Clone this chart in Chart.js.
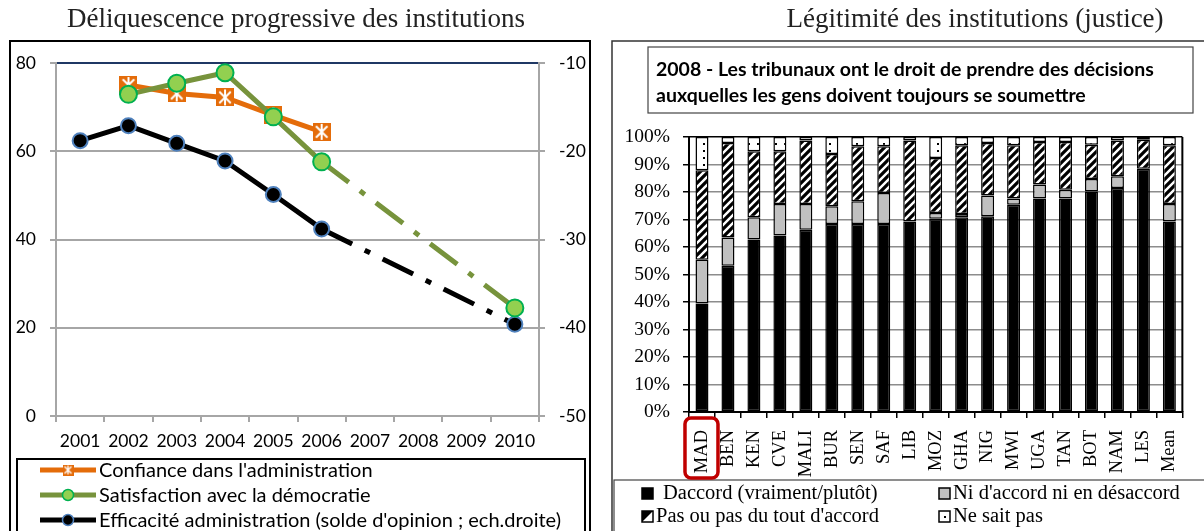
<!DOCTYPE html>
<html>
<head>
<meta charset="utf-8">
<script src="https://cdn.jsdelivr.net/npm/chart.js@4.4.0/dist/chart.umd.min.js"></script>
<style>
  html, body { margin: 0; padding: 0; background: #fff; overflow: hidden; }
  #wrap { position: relative; width: 1204px; height: 531px; }
  #gauche { position: absolute; left: 0; top: 0; }
  #droite { position: absolute; left: 600px; top: 0; }
</style>
</head>
<body>
<div id="wrap">
  <canvas id="gauche" width="600" height="531"></canvas>
  <canvas id="droite" width="604" height="531"></canvas>
</div>
<script>
// ---- graphique de gauche
const annees = ['2001', '2002', '2003', '2004', '2005', '2006', '2007', '2008', '2009', '2010'];
const confiance = [null, 75.0, 73.1, 72.2, 68.2, 64.4, null, null, null, null];
const satisfaction = [null, 72.9, 75.4, 77.8, 67.8, 57.6, null, null, null, 24.5];
const efficacite = [-18.8, -17.1, -19.1, -21.1, -24.9, -28.8, null, null, null, -39.6];
const ticksGauche = [0, 20, 40, 60, 80];
const ticksDroite = [-50, -40, -30, -20, -10];
const seriesGauche = ["Confiance dans l'administration", 'Satisfaction avec la démocratie',
  "Efficacité administration (solde d'opinion ; ech.droite)"];

// ---- graphique de droite
const pays = ['MAD', 'BEN', 'KEN', 'CVE', 'MALI', 'BUR', 'SEN', 'SAF', 'LIB', 'MOZ',
  'GHA', 'NIG', 'MWI', 'UGA', 'TAN', 'BOT', 'NAM', 'LES', 'Mean'];
const daccord = [39.5, 53.2, 62.7, 64.2, 66.3, 68.4, 68.4, 68.4, 69.3, 70.3, 70.8, 71.2, 75.4, 77.6, 77.6, 80.2, 81.5, 88.5, 69.3];
const niNi = [15.9, 10.3, 8.1, 11.4, 9.3, 6.4, 8.2, 11.2, 0, 2.1, 1.2, 7.5, 2.2, 5.1, 3.2, 4.5, 4.2, 0, 6.3];
const pasDaccord = [32.5, 34.3, 24.0, 19.2, 23.1, 19.0, 20.0, 17.0, 29.4, 20.0, 25.0, 19.1, 19.4, 15.5, 17.4, 12.5, 13.0, 10.5, 21.4];
const nsp = [12.1, 2.2, 5.2, 5.2, 1.3, 6.2, 3.4, 3.4, 1.3, 7.6, 3.0, 2.2, 3.0, 1.8, 1.8, 2.8, 1.3, 1.0, 3.0];
const ticksPct = [0, 10, 20, 30, 40, 50, 60, 70, 80, 90, 100];
const seriesDroite = ['Daccord (vraiment/plutôt)', "Ni d'accord ni en désaccord", "Pas ou pas du tout d'accord", 'Ne sait pas'];
const titreGauche = 'Déliquescence progressive des institutions';
const titreDroite = 'Légitimité des institutions (justice)';
const question = ['2008 - Les tribunaux ont le droit de prendre des décisions',
  'auxquelles les gens doivent toujours se soumettre'];

const sans = 'Lato, "Open Sans", sans-serif';
const serif = '"Liberation Serif", "DejaVu Serif", serif';
const gris = '#A6A6A6';

// marqueur orange (carre avec asterisque blanc)
let marqueOrange = (taille) => {
  let c = document.createElement('canvas');
  c.width = taille; c.height = taille;
  let g = c.getContext('2d');
  g.fillStyle = '#E46C0A';
  g.fillRect(0, 0, taille, taille);
  g.strokeStyle = '#fff';
  g.lineWidth = taille > 12 ? 2 : 1.3;
  let m = taille * 0.18, t = taille;
  g.beginPath();
  g.moveTo(m, m); g.lineTo(t - m, t - m);
  g.moveTo(t - m, m); g.lineTo(m, t - m);
  g.moveTo(t / 2, 1); g.lineTo(t / 2, t - 1);
  g.stroke();
  return c;
};

let motifHachures = (ctx) => {
  let c = document.createElement('canvas');
  c.width = 8; c.height = 8;
  let g = c.getContext('2d');
  g.fillStyle = '#fff';
  g.fillRect(0, 0, 8, 8);
  g.strokeStyle = '#000';
  g.lineWidth = 3.2;
  g.beginPath();
  g.moveTo(-2, 10); g.lineTo(10, -2);
  g.moveTo(-2, 2); g.lineTo(2, -2);
  g.moveTo(6, 10); g.lineTo(10, 6);
  g.stroke();
  return ctx.createPattern(c, 'repeat');
};

let motifPoints = (ctx) => {
  let c = document.createElement('canvas');
  c.width = 9; c.height = 7;
  let g = c.getContext('2d');
  g.fillStyle = '#fff';
  g.fillRect(0, 0, 9, 7);
  g.fillStyle = '#000';
  g.fillRect(4, 3, 2, 2);
  return ctx.createPattern(c, 'repeat');
};

// trait-point pour les annees sans donnees
let trou = ctx => ctx.p0.skip || ctx.p1.skip ? [34, 14, 6, 14] : undefined;

let cadreGauche = {
  id: 'cadreGauche',
  afterDraw(chart) {
    let g = chart.ctx;
    g.save();
    g.fillStyle = '#222';
    g.font = '27px ' + serif;
    g.textAlign = 'center';
    g.textBaseline = 'middle';
    g.fillText(titreGauche, 296, 20);

    g.strokeStyle = '#000';
    g.lineWidth = 2;
    g.strokeRect(10, 41, 580, 500);
    g.strokeRect(17, 459, 568, 100);

    let ys = [470, 495, 520];
    let couleurs = ['#E46C0A', '#77933C', '#000'];
    ys.forEach((y, i) => {
      g.strokeStyle = couleurs[i];
      g.lineWidth = 5;
      g.beginPath();
      g.moveTo(40, y); g.lineTo(96, y);
      g.stroke();
      if (i === 0) {
        g.drawImage(marqueOrange(11), 68 - 5.5, y - 5.5);
      } else {
        g.beginPath();
        g.arc(68, y, 5.5, 0, Math.PI * 2);
        g.fillStyle = i === 1 ? '#92D050' : '#000';
        g.fill();
        g.lineWidth = 1.5;
        g.strokeStyle = i === 1 ? '#00B050' : '#4F81BD';
        g.stroke();
      }
      g.fillStyle = '#000';
      g.font = '20px ' + sans;
      g.textAlign = 'left';
      g.fillText(seriesGauche[i], 99, y + 1);
    });
    g.restore();
  }
};

const gauche = new Chart(document.getElementById('gauche'), {
  type: 'line',
  data: {
    labels: annees,
    datasets: [{
      label: seriesGauche[0],
      data: confiance,
      yAxisID: 'y',
      order: 1,
      borderColor: '#E46C0A',
      borderWidth: 5,
      pointStyle: marqueOrange(18),
      pointRadius: 9
    }, {
      label: seriesGauche[1],
      data: satisfaction,
      yAxisID: 'y',
      order: 0,
      borderColor: '#77933C',
      borderWidth: 5,
      borderCapStyle: 'butt',
      spanGaps: true,
      segment: { borderDash: trou },
      pointRadius: 8.5,
      pointBackgroundColor: '#92D050',
      pointBorderColor: '#00B050',
      pointBorderWidth: 2
    }, {
      label: seriesGauche[2],
      data: efficacite,
      yAxisID: 'y2',
      order: 2,
      borderColor: '#000',
      borderWidth: 5,
      borderCapStyle: 'butt',
      spanGaps: true,
      segment: { borderDash: trou },
      pointRadius: 7.5,
      pointBackgroundColor: '#000',
      pointBorderColor: '#4F81BD',
      pointBorderWidth: 2
    }]
  },
  options: {
    responsive: false,
    animation: false,
    layout: { padding: { top: 63, left: 0, right: 0, bottom: 0 } },
    plugins: { legend: { display: false }, tooltip: { enabled: false } },
    scales: {
      x: {
        offset: true,
        grid: { offset: true, drawOnChartArea: false, tickLength: 6, color: gris, lineWidth: 2 },
        border: { color: gris, width: 2 },
        ticks: { color: '#000', font: { family: sans, size: 17.5 }, padding: 9, maxRotation: 0, autoSkip: false },
        afterFit: s => { s.height = 115; }
      },
      y: {
        position: 'left',
        min: 0,
        max: 80,
        afterBuildTicks: s => { s.ticks = ticksGauche.map(v => ({ value: v })); },
        grid: { color: c => c.tick && c.tick.value === 80 ? '#1F3864' : gris, tickColor: gris, lineWidth: 2, tickLength: 6 },
        border: { color: gris, width: 2 },
        ticks: { color: '#000', font: { family: sans, size: 17.5 }, padding: 14 },
        afterFit: s => { s.width = 56; }
      },
      y2: {
        position: 'right',
        min: -50,
        max: -10,
        afterBuildTicks: s => { s.ticks = ticksDroite.map(v => ({ value: v })); },
        grid: { drawOnChartArea: false, color: gris, lineWidth: 2, tickLength: 6 },
        border: { color: gris, width: 2 },
        ticks: { color: '#000', font: { family: sans, size: 17.5 }, padding: 14 },
        afterFit: s => { s.width = 61; }
      }
    }
  },
  plugins: [cadreGauche]
});

let cadreDroite = {
  id: 'cadreDroite',
  beforeDatasetsDraw(chart) {
    let a = chart.chartArea, g = chart.ctx;
    g.save();
    g.strokeStyle = '#000';
    g.lineWidth = 2;
    g.beginPath();
    g.moveTo(a.right, a.top); g.lineTo(a.right, a.bottom);
    g.stroke();
    g.restore();
  },
  afterDraw(chart) {
    let g = chart.ctx;
    g.save();
    g.fillStyle = '#222';
    g.font = '27px ' + serif;
    g.textAlign = 'center';
    g.textBaseline = 'middle';
    g.fillText(titreDroite, 375, 20);

    g.strokeStyle = '#333';
    g.lineWidth = 1.5;
    g.strokeRect(12, 41, 600, 500);
    g.strokeStyle = '#444';
    g.lineWidth = 1.2;
    g.strokeRect(48, 47, 545, 66);
    g.strokeRect(14, 480, 600, 60);

    g.fillStyle = '#000';
    g.font = 'bold 19.5px ' + sans;
    g.textAlign = 'left';
    g.fillText(question[0], 56, 70);
    g.fillText(question[1], 56, 96);

    // cadre rouge autour de MAD
    let x = chart.scales.x.getPixelForValue(0);
    g.strokeStyle = '#C00000';
    g.lineWidth = 3.5;
    g.beginPath();
    g.roundRect(x - 17, 418, 33, 60, 6);
    g.stroke();

    // legende
    let cases = [[42, 494], [339, 494], [42, 517], [339, 517]];
    let fonds = ['#000', '#C0C0C0', null, null];
    cases.forEach(([cx, cy], i) => {
      g.fillStyle = '#fff';
      g.fillRect(cx, cy - 6, 11, 11);
      if (i < 2) {
        g.fillStyle = fonds[i];
        g.fillRect(cx, cy - 6, 11, 11);
      } else if (i === 2) {
        g.fillStyle = '#000';
        g.beginPath();
        g.moveTo(cx, cy + 5); g.lineTo(cx + 11, cy - 6); g.lineTo(cx, cy - 6);
        g.closePath();
        g.fill();
      } else {
        g.fillStyle = '#000';
        g.fillRect(cx + 5, cy - 1, 2, 2);
      }
      g.strokeStyle = '#000';
      g.lineWidth = 1.5;
      g.strokeRect(cx, cy - 6, 11, 11);
      g.fillStyle = '#000';
      g.font = '20.5px ' + serif;
      g.textBaseline = 'middle';
      g.fillText(seriesDroite[i], cx + (i === 0 ? 21 : 14), cy);
    });
    g.restore();
  }
};

let ctxD = document.getElementById('droite').getContext('2d');
const droite = new Chart(ctxD, {
  type: 'bar',
  data: {
    labels: pays,
    datasets: [
      { label: seriesDroite[0], data: daccord, backgroundColor: '#000' },
      { label: seriesDroite[1], data: niNi, backgroundColor: '#C0C0C0' },
      { label: seriesDroite[2], data: pasDaccord, backgroundColor: motifHachures(ctxD) },
      { label: seriesDroite[3], data: nsp, backgroundColor: motifPoints(ctxD) }
    ].map(d => Object.assign(d, {
      borderColor: '#000', borderWidth: 1.5, borderSkipped: false,
      barPercentage: 0.5, categoryPercentage: 1
    }))
  },
  options: {
    responsive: false,
    animation: false,
    layout: { padding: { top: 137, right: 16, left: 0, bottom: 0 } },
    plugins: { legend: { display: false }, tooltip: { enabled: false } },
    scales: {
      x: {
        stacked: true,
        grid: { offset: true, drawOnChartArea: false, tickLength: 6, color: '#000', lineWidth: 1.5 },
        border: { color: '#000', width: 2 },
        ticks: { color: '#000', font: { family: serif, size: 18.5 }, minRotation: 90, maxRotation: 90, autoSkip: false, padding: 12 },
        afterFit: s => { s.height = 119; }
      },
      y: {
        stacked: true,
        min: 0,
        max: 100,
        afterBuildTicks: s => { s.ticks = ticksPct.map(v => ({ value: v })); },
        grid: { color: c => c.tick && c.tick.value === 100 ? '#000' : '#8C8C8C', tickColor: '#000', lineWidth: 1.5, tickLength: 6 },
        border: { color: '#000', width: 2 },
        ticks: { color: '#000', font: { family: serif, size: 19.5 }, padding: 13, callback: v => v + '%' },
        afterFit: s => { s.width = 89; }
      }
    }
  },
  plugins: [cadreDroite]
});
</script>
</body>
</html>
